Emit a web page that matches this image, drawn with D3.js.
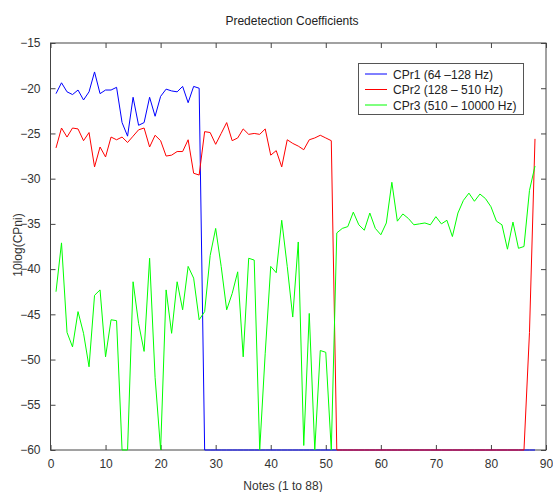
<!DOCTYPE html>
<html>
<head>
<meta charset="utf-8">
<script src="https://cdn.jsdelivr.net/npm/d3@7"></script>
<style>
  body { margin: 0; background: #fff; }
  svg { display: block; font-family: "Liberation Sans", Arial, sans-serif; }
  .tick text { font-size: 12px; fill: #333; }
</style>
</head>
<body>
<svg width="553" height="492"></svg>
<script>
// notes 1..88
const notes = d3.range(1, 89);

const cpr1 = [-20.6, -19.4, -20.4, -20.7, -20.2, -21.3, -20.4, -18.2, -20.6, -20.2,
  -20.2, -19.9, -23.8, -25.3, -21.0, -24.1, -23.8, -21.0, -23.1, -20.9,
  -20.1, -20.3, -20.4, -19.8, -21.6, -19.8, -20.0,
  -60, -60, -60, -60, -60, -60, -60, -60, -60, -60, -60, -60, -60, -60, -60, -60,
  -60, -60, -60, -60, -60, -60, -60, -60, -60, -60, -60, -60, -60, -60, -60, -60,
  -60, -60, -60, -60, -60, -60, -60, -60, -60, -60, -60, -60, -60, -60, -60, -60,
  -60, -60, -60, -60, -60, -60, -60, -60, -60, -60, -60, -60, -60];

const cpr2 = [-26.6, -24.4, -25.4, -24.4, -24.5, -25.8, -24.9, -28.7, -26.5, -27.6,
  -25.4, -25.7, -25.4, -26.0, -25.3, -24.6, -24.4, -26.5, -25.2, -25.8,
  -27.5, -27.4, -27.0, -27.0, -25.7, -29.4, -29.6,
  -24.8, -24.9, -26.2, -25.0, -23.8, -25.8, -25.5, -24.5, -25.1, -25.0,
  -25.1, -24.5, -27.4, -26.9, -28.7, -25.7, -26.1, -26.4, -26.8, -25.7,
  -25.5, -25.2, -25.5, -25.8,
  -60, -60, -60, -60, -60, -60, -60, -60, -60, -60, -60, -60, -60, -60, -60, -60,
  -60, -60, -60, -60, -60, -60, -60, -60, -60, -60, -60, -60, -60, -60, -60, -60,
  -60, -60, -60,
  -47.0, -25.6];

const cpr3 = [-42.5, -37.1, -47.0, -48.6, -44.7, -47.1, -50.8, -42.9, -42.3, -49.7,
  -45.6, -45.7, -60, -60, -41.4, -46.0, -49.1, -38.8, -52.0, -60,
  -42.3, -47.1, -41.4, -44.5, -39.7, -41.0, -45.6, -44.7, -38.5, -35.5,
  -39.7, -44.5, -42.7, -40.3, -49.7, -38.8, -39.0, -60, -49.3, -39.7,
  -40.4, -34.6, -39.7, -45.3, -37.0, -59.5, -44.9, -60, -49.0, -49.2,
  -60, -36.0, -35.5, -35.3, -33.7, -35.1, -35.7, -33.8, -35.5, -36.2,
  -34.9, -30.4, -34.7, -33.9, -34.4, -35.1, -35.0, -34.9, -35.1, -34.2,
  -35.0, -34.6, -36.4, -33.8, -32.4, -31.6, -32.5, -31.7, -32.2, -33.1,
  -34.7, -35.1, -37.8, -34.8, -37.7, -37.5, -31.3, -28.6];

const seriesNames = ["CPr1 (64 \u2013128 Hz)", "CPr2 (128 \u2013 510 Hz)", "CPr3 (510 \u2013 10000 Hz)"];
const seriesColors = ["#0000ff", "#ff0000", "#00ff00"];
const xTicks = [0, 10, 20, 30, 40, 50, 60, 70, 80, 90];
const yTicks = [-15, -20, -25, -30, -35, -40, -45, -50, -55, -60];

const plotLeft = 50.5, plotRight = 546, plotTop = 43, plotBottom = 450;

const svg = d3.select("svg");

const x = d3.scaleLinear().domain([0, 90]).range([plotLeft, plotRight]);
const y = d3.scaleLinear().domain([-60, -15]).range([plotBottom, plotTop]);

// axes, MATLAB style with ticks inside on all four sides
const axColor = "#444";
function styleAxis(g) {
  g.select(".domain").remove();
  g.selectAll(".tick line").attr("stroke", axColor);
}
svg.append("g").attr("transform", `translate(0,${plotBottom})`)
  .call(d3.axisBottom(x).tickValues(xTicks).tickSizeInner(-5).tickSizeOuter(0).tickPadding(9))
  .call(styleAxis);
svg.append("g").attr("transform", `translate(0,${plotTop})`)
  .call(d3.axisTop(x).tickValues(xTicks).tickSizeInner(-5).tickSizeOuter(0).tickFormat(""))
  .call(styleAxis);
svg.append("g").attr("transform", `translate(${plotLeft},0)`)
  .call(d3.axisLeft(y).tickValues(yTicks).tickSizeInner(-5).tickSizeOuter(0).tickPadding(10))
  .call(styleAxis);
svg.append("g").attr("transform", `translate(${plotRight},0)`)
  .call(d3.axisRight(y).tickValues(yTicks).tickSizeInner(-5).tickSizeOuter(0).tickFormat(""))
  .call(styleAxis);

svg.append("rect")
  .attr("x", plotLeft).attr("y", plotTop)
  .attr("width", plotRight - plotLeft).attr("height", plotBottom - plotTop)
  .attr("fill", "none").attr("stroke", axColor);

// lines
const line = d3.line().x((d, i) => x(notes[i])).y(d => y(d));
[cpr1, cpr2, cpr3].forEach((s, k) => {
  svg.append("path")
    .datum(s)
    .attr("d", line)
    .attr("fill", "none")
    .attr("stroke", seriesColors[k])
    .attr("stroke-width", 1);
});

// legend
const lg = svg.append("g");
lg.append("rect")
  .attr("x", 358.5).attr("y", 63.5).attr("width", 165).attr("height", 51)
  .attr("fill", "#fff").attr("stroke", "#555");
seriesNames.forEach((name, k) => {
  const yy = 74 + k * 15.5;
  lg.append("line")
    .attr("x1", 365).attr("x2", 387).attr("y1", yy).attr("y2", yy)
    .attr("stroke", seriesColors[k]);
  lg.append("text")
    .attr("x", 393).attr("y", yy + 4.5)
    .attr("font-size", 12).attr("fill", "#222")
    .text(name);
});

// labels
svg.append("text").attr("x", 292).attr("y", 25)
  .attr("text-anchor", "middle").attr("font-size", 12).attr("fill", "#222")
  .text("Predetection Coefficients");
svg.append("text").attr("x", 283).attr("y", 490)
  .attr("text-anchor", "middle").attr("font-size", 12).attr("fill", "#333")
  .text("Notes (1 to 88)");
svg.append("text")
  .attr("transform", "translate(22,245) rotate(-90)")
  .attr("text-anchor", "middle").attr("font-size", 12).attr("fill", "#333")
  .text("10log(CPni)");
</script>
</body>
</html>
